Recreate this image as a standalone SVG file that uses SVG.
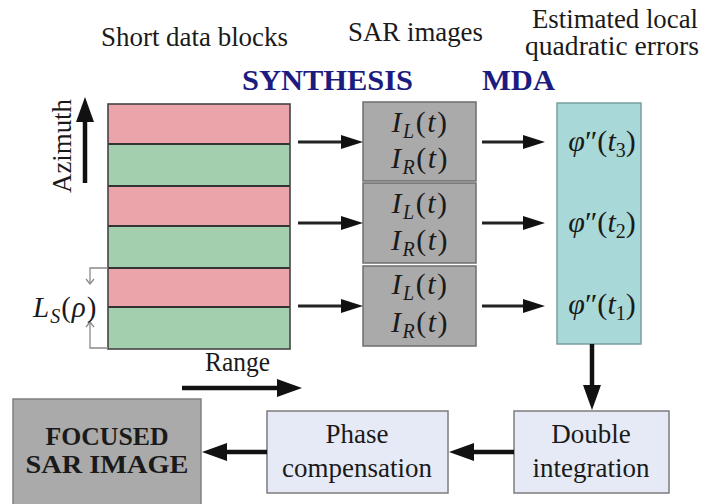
<svg xmlns="http://www.w3.org/2000/svg" width="702" height="504" viewBox="0 0 702 504">
  <style>
    text { font-family: "Liberation Serif", "DejaVu Serif", serif; fill: #1a1a1a; }
    .lbl { font-size: 27px; }
    .head { font-size: 30px; font-weight: bold; fill: #1c1c80; }
    .math { font-size: 30px; font-style: italic; text-anchor: middle; }
    .up { font-style: normal; }
    .pink { fill: #eba5aa; }
    .green { fill: #a3cfae; }
    .sep { stroke: #333; stroke-width: 2; }
    .sar { fill: #aaaaaa; stroke: #6e6e6e; stroke-width: 1.5; }
    .mda { fill: #a9d8d8; stroke: #7a9e9e; stroke-width: 1.5; }
    .step { fill: #e6eaf6; stroke: #7c7c7c; stroke-width: 1.5; }
    .out { fill: #aaaaaa; stroke: #808080; stroke-width: 1.5; }
    .thin { stroke: #222; stroke-width: 3; fill: none; }
    .thick { stroke: #111; stroke-width: 4.5; fill: none; }
    .bracket { stroke: #8a8a8a; stroke-width: 1.3; fill: none; }
  </style>
  <defs>
    <marker id="ah" markerUnits="userSpaceOnUse" markerWidth="22" markerHeight="14" refX="1" refY="7" orient="auto">
      <path d="M0,0 L22,7 L0,14 z" fill="#111"/>
    </marker>
    <marker id="ahBig" markerUnits="userSpaceOnUse" markerWidth="25" markerHeight="18" refX="1" refY="9" orient="auto">
      <path d="M0,0 L25,9 L0,18 z" fill="#111"/>
    </marker>
  </defs>

  <rect width="702" height="504" fill="#ffffff"/>

  <!-- column captions -->
  <g id="captions">
    <text class="lbl" x="101" y="46" textLength="187" lengthAdjust="spacingAndGlyphs">Short data blocks</text>
    <text class="lbl" x="348" y="41" textLength="135" lengthAdjust="spacingAndGlyphs">SAR images</text>
    <text class="lbl" x="532" y="28" textLength="166" lengthAdjust="spacingAndGlyphs">Estimated local</text>
    <text class="lbl" x="525" y="55" textLength="174" lengthAdjust="spacingAndGlyphs">quadratic errors</text>
    <text class="head" x="242" y="90" textLength="171" lengthAdjust="spacingAndGlyphs">SYNTHESIS</text>
    <text class="head" x="482" y="90" textLength="73" lengthAdjust="spacingAndGlyphs">MDA</text>
  </g>

  <!-- azimuth / range axes -->
  <g id="axes">
    <text class="lbl" transform="translate(71,146) rotate(-90)" text-anchor="middle" textLength="94" lengthAdjust="spacingAndGlyphs">Azimuth</text>
    <text class="lbl" x="205" y="371" textLength="65" lengthAdjust="spacingAndGlyphs">Range</text>
  </g>

  <!-- stack of short data blocks -->
  <g id="data-blocks">
    <rect class="pink" x="108" y="104" width="182" height="40"/>
    <rect class="green" x="108" y="144" width="182" height="42"/>
    <rect class="pink" x="108" y="186" width="182" height="40"/>
    <rect class="green" x="108" y="226" width="182" height="42"/>
    <rect class="pink" x="108" y="268" width="182" height="39"/>
    <rect class="green" x="108" y="307" width="182" height="42"/>
    <line class="sep" x1="108" y1="144" x2="290" y2="144"/>
    <line class="sep" x1="108" y1="186" x2="290" y2="186"/>
    <line class="sep" x1="108" y1="226" x2="290" y2="226"/>
    <line class="sep" x1="108" y1="268" x2="290" y2="268"/>
    <line class="sep" x1="108" y1="307" x2="290" y2="307"/>
    <rect x="108" y="104" width="182" height="245" fill="none" stroke="#444" stroke-width="1.6"/>
  </g>

  <!-- block length annotation -->
  <g id="block-length">
    <polyline class="bracket" points="108,268 90,268 90,284"/>
    <polyline class="bracket" points="86,279 90,284 94,279"/>
    <polyline class="bracket" points="108,348 90,348 90,322"/>
    <polyline class="bracket" points="86,327 90,322 94,327"/>
    <text x="33" y="317" font-size="29" font-style="italic" letter-spacing="1">L<tspan font-size="20" dy="6">S</tspan><tspan dy="-6" class="up">(</tspan>ρ<tspan class="up">)</tspan></text>
  </g>

  <!-- SAR image pairs -->
  <g id="sar-3">
    <rect class="sar" x="363" y="102" width="113" height="79"/>
    <text class="math" x="420" y="132" letter-spacing="1.5">I<tspan font-size="20" dy="6">L</tspan><tspan dy="-6" class="up">(</tspan>t<tspan class="up">)</tspan></text>
    <text class="math" x="420" y="168" letter-spacing="1.5">I<tspan font-size="20" dy="6">R</tspan><tspan dy="-6" class="up">(</tspan>t<tspan class="up">)</tspan></text>
  </g>
  <g id="sar-2">
    <rect class="sar" x="363" y="183" width="113" height="80"/>
    <text class="math" x="420" y="213" letter-spacing="1.5">I<tspan font-size="20" dy="6">L</tspan><tspan dy="-6" class="up">(</tspan>t<tspan class="up">)</tspan></text>
    <text class="math" x="420" y="250" letter-spacing="1.5">I<tspan font-size="20" dy="6">R</tspan><tspan dy="-6" class="up">(</tspan>t<tspan class="up">)</tspan></text>
  </g>
  <g id="sar-1">
    <rect class="sar" x="363" y="266" width="113" height="80"/>
    <text class="math" x="420" y="294" letter-spacing="1.5">I<tspan font-size="20" dy="6">L</tspan><tspan dy="-6" class="up">(</tspan>t<tspan class="up">)</tspan></text>
    <text class="math" x="420" y="332" letter-spacing="1.5">I<tspan font-size="20" dy="6">R</tspan><tspan dy="-6" class="up">(</tspan>t<tspan class="up">)</tspan></text>
  </g>

  <!-- MDA estimates -->
  <g id="mda">
    <rect class="mda" x="557" y="103" width="84" height="241"/>
    <text class="math" x="602" y="151">φ<tspan class="up">″(</tspan>t<tspan class="up" font-size="20" dy="6">3</tspan><tspan class="up" dy="-6">)</tspan></text>
    <text class="math" x="602" y="232">φ<tspan class="up">″(</tspan>t<tspan class="up" font-size="20" dy="6">2</tspan><tspan class="up" dy="-6">)</tspan></text>
    <text class="math" x="602" y="314">φ<tspan class="up">″(</tspan>t<tspan class="up" font-size="20" dy="6">1</tspan><tspan class="up" dy="-6">)</tspan></text>
  </g>

  <g id="double-integration">
    <rect class="step" x="514" y="411" width="155" height="82"/>
    <text class="lbl" x="591" y="443" text-anchor="middle">Double</text>
    <text class="lbl" x="591" y="477" text-anchor="middle">integration</text>
  </g>

  <g id="phase-compensation">
    <rect class="step" x="267" y="411" width="181" height="82"/>
    <text class="lbl" x="357" y="443" text-anchor="middle">Phase</text>
    <text class="lbl" x="357" y="477" text-anchor="middle">compensation</text>
  </g>

  <g id="focused-image">
    <rect class="out" x="13" y="399" width="188" height="110"/>
    <text x="107" y="445" font-size="25" font-weight="bold" text-anchor="middle" textLength="123" lengthAdjust="spacingAndGlyphs">FOCUSED</text>
    <text x="107" y="473" font-size="25" font-weight="bold" text-anchor="middle" textLength="163" lengthAdjust="spacingAndGlyphs">SAR IMAGE</text>
  </g>

  <!-- connectors -->
  <g id="connectors">
    <line class="thick" x1="85" y1="183" x2="85" y2="121" marker-end="url(#ahBig)"/>
    <line class="thick" x1="182" y1="388" x2="278" y2="388" marker-end="url(#ahBig)"/>

    <line class="thin" x1="298" y1="142" x2="342" y2="142" marker-end="url(#ah)"/>
    <line class="thin" x1="298" y1="223" x2="342" y2="223" marker-end="url(#ah)"/>
    <line class="thin" x1="298" y1="306" x2="342" y2="306" marker-end="url(#ah)"/>

    <line class="thin" x1="482" y1="142" x2="524" y2="142" marker-end="url(#ah)"/>
    <line class="thin" x1="482" y1="223" x2="524" y2="223" marker-end="url(#ah)"/>
    <line class="thin" x1="482" y1="306" x2="524" y2="306" marker-end="url(#ah)"/>

    <line class="thick" x1="592" y1="344" x2="592" y2="386" marker-end="url(#ahBig)"/>
    <line class="thick" x1="514" y1="452" x2="473" y2="452" marker-end="url(#ahBig)"/>
    <line class="thick" x1="267" y1="452" x2="226" y2="452" marker-end="url(#ahBig)"/>
  </g>
</svg>
